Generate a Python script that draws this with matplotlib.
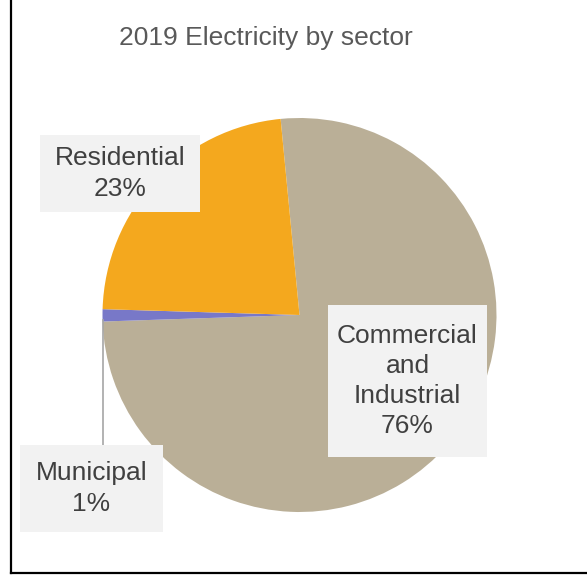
import matplotlib.pyplot as plt
from matplotlib.patches import Rectangle
from matplotlib.lines import Line2D

plt.rcParams['font.family'] = ['Liberation Sans', 'DejaVu Sans']

sectors = ['Commercial\nand\nIndustrial', 'Municipal', 'Residential']
shares = [76, 1, 23]
colors = ['#BAAF97', '#7878C8', '#F4A81E']

W, H = 587, 575
cx, cy, r = 299.5, 315, 197


def px(x, y):
    # pixel position (top-left origin) -> pie data units
    return (x - cx) / r, (cy - y) / r


fig = plt.figure(figsize=(W / 100, H / 100), dpi=100)
ax = fig.add_axes([0, 0, 1, 1])
ax.pie(shares, colors=colors, startangle=95.5, counterclock=False,
       wedgeprops=dict(linewidth=0))
ax.set_xlim(-cx / r, (W - cx) / r)
ax.set_ylim((cy - H) / r, cy / r)
ax.set_aspect('equal')
ax.axis('off')

# label boxes: (left, top, right, bottom) in pixels
boxes = [(328, 305, 487, 457), (20, 445, 163, 532), (40, 135, 200, 212)]
for name, val, (x0, y0, x1, y1) in zip(sectors, shares, boxes):
    bx, by = px(x0, y1)
    tx, ty = px(x1, y0)
    ax.add_patch(Rectangle((bx, by), tx - bx, ty - by, facecolor='#F2F2F2',
                           edgecolor='none', zorder=3))
    mx, my = px((x0 + x1) / 2, (y0 + y1) / 2)
    ax.text(mx, my, f'{name}\n{val}%', ha='center', va='center',
            fontsize=19, color='#404040', linespacing=1.33, zorder=4)

# leader line for the small slice
lx0, ly0 = px(103, 445)
lx1, ly1 = px(103, 320)
ax.plot([lx0, lx1], [ly0, ly1], color='#A6A6A6', lw=1.2, zorder=2)

fig.text(266 / W, 1 - 38 / H, '2019 Electricity by sector', ha='center',
         va='center', fontsize=19, color='#595959')

# chart frame (left and bottom edges)
fig.add_artist(Line2D([11 / W, 11 / W], [1, 1 - 573 / H],
                      transform=fig.transFigure, color='black', lw=1.6))
fig.add_artist(Line2D([11 / W, 1], [1 - 573 / H, 1 - 573 / H],
                      transform=fig.transFigure, color='black', lw=1.6))

fig.savefig('out.png', dpi=100)
